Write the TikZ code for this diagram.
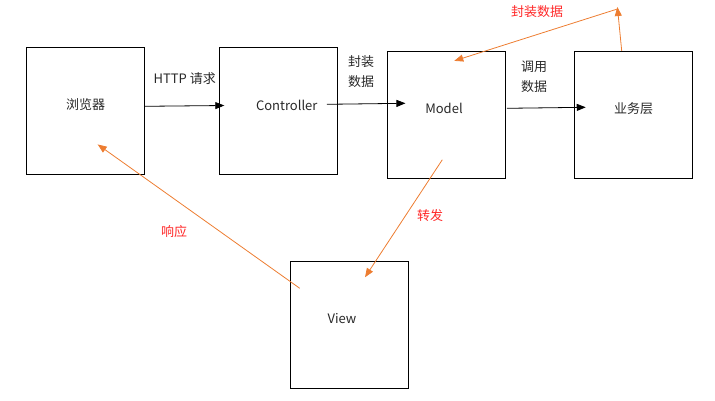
\documentclass[tikz,border=0pt]{standalone}
\usepackage{fontspec}
\setmainfont{Noto Sans CJK SC}
\usepackage{tikz}
\usetikzlibrary{arrows.meta,positioning,calc}
\definecolor{mvcOrange}{RGB}{237,125,49}
\definecolor{mvcRed}{RGB}{255,40,40}
\definecolor{mvcText}{RGB}{40,40,40}

\begin{document}
\begin{tikzpicture}[x=1pt,y=-1pt,
    font=\fontsize{13}{20}\selectfont,
    box/.style={draw=black, line width=0.9pt, minimum width=118pt, minimum height=127pt, inner sep=0pt},
    boxtext/.style={text=mvcText},
    blkarrow/.style={black, line width=0.8pt, -{Triangle[length=9pt,width=7pt]}},
    orgarrow/.style={mvcOrange, line width=0.8pt, -{Triangle[length=9pt,width=7pt]}},
    redlabel/.style={text=mvcRed},
    greylabel/.style={text=mvcText, align=center}]

\useasboundingbox (0,0) rectangle (715,401);

% =========================
% Boxes
% =========================
\node[box, label={[boxtext,yshift=6pt]center:浏览器}] (browser) at (85.5,111) {};
\node[box, label={[boxtext,xshift=8.5pt,yshift=6pt]center:Controller}] (ctrl) at (278.25,111) {};
\node[box, label={[boxtext,xshift=-2.5pt,yshift=6pt]center:Model}] (model) at (446.5,114.8) {};
\node[box, label={[boxtext,yshift=6pt]center:业务层}] (biz) at (633.5,114.8) {};
\node[box, label={[boxtext,xshift=-7.5pt,yshift=6pt]center:View}] (view) at (349.5,324.8) {};

% =========================
% Request path (black)
% =========================
\draw[blkarrow] ([yshift=4.7pt]browser.east) -- ([xshift=5.5pt,yshift=5.5pt]ctrl.west);
\draw[blkarrow] ([xshift=-10.8pt,yshift=6.7pt]ctrl.east) -- ([xshift=18.4pt,yshift=11.5pt]model.west);
\draw[blkarrow] ([xshift=1pt,yshift=6.5pt]model.east) -- ([xshift=11.7pt,yshift=7.5pt]biz.west);

\node[greylabel] (lblhttp) at (184.7,78.3) {HTTP 请求};
\node[greylabel] (lblpack) at (361,72) {封装\\数据};
\node[greylabel] (lblcall) at (534,77) {调用\\数据};

% =========================
% Return path (orange)
% =========================
\coordinate (turn) at (617.4,7);
\draw[orgarrow] ([xshift=-11.8pt]biz.north) -- (turn);
\draw[orgarrow] ($(turn)+(0,2)$) -- ([xshift=7.8pt,yshift=-10pt]model.north);
\draw[orgarrow] ([xshift=-4.2pt,yshift=19pt]model.south) -- ([xshift=15.5pt,yshift=-16.4pt]view.north);
\draw[orgarrow] ([xshift=9.7pt,yshift=36.5pt]view.west) -- ([xshift=12.2pt,yshift=30.5pt]browser.south);

\node[redlabel] (lblback) at (537,12) {封装数据};
\node[redlabel] (lblfwd) at (430,216) {转发};
\node[redlabel] (lblresp) at (174,232) {响应};

\end{tikzpicture}
\end{document}
